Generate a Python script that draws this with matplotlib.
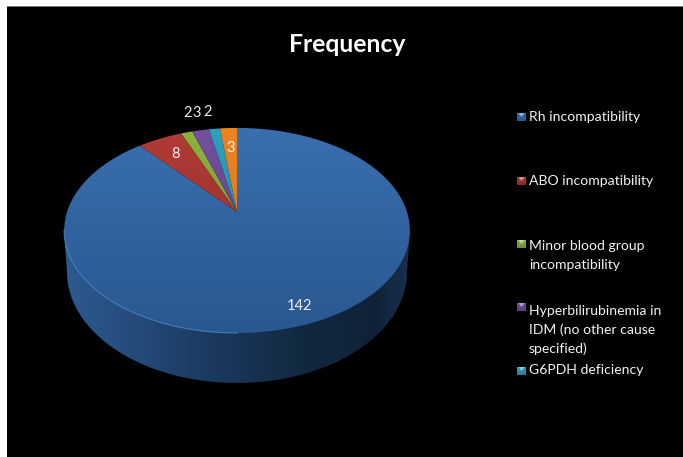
#!/usr/bin/env python3
"""Frequency of causes of neonatal jaundice, as a tilted 3D pie on black."""

import numpy as np
import matplotlib
matplotlib.use("Agg")
import matplotlib.pyplot as plt
from matplotlib.colors import LinearSegmentedColormap, to_rgb
from matplotlib.patches import Polygon, Rectangle

# slices go clockwise from 12 o'clock; the last one has no legend entry
values = [142, 8, 2, 3, 2, 3]
names = [
    "Rh incompatibility",
    "ABO incompatibility",
    "Minor blood group\nincompatibility",
    "Hyperbilirubinemia in\nIDM (no other cause\nspecified)",
    "G6PDH deficiency",
]
top_colors = ["#3a6fb0", "#b23b36", "#8fb23e", "#74509f", "#2f9fc0", "#ee8422"]
low_colors = ["#295790", "#8c2b29", "#6f8f2e", "#583c80", "#23809c", "#d06f18"]

label_pos = [(299, 306), (175, 154), (188, 113), (197, 113), (208, 112), (231, 148)]
legend_y = [117, 181, 244, 307, 371]
text_y = [117, 181, 255.5, 330, 370]

CX = 237
APEX_Y = 212.0
K = 0.18  # perspective strength of the tilted disc


def project(theta, a, b, c):
    # clockwise angle from the top -> pixel position on a tilted disc
    x, y = np.sin(theta), np.cos(theta)
    w = 1 + K * y
    return CX + a * x / w, c - b * y / w


def top_rim(theta):
    return project(theta, 170.0, 99.2, APEX_Y)


def bottom_rim(theta):
    return project(theta, 167.2, 107.4, 252.0)


def gradient(ax, extent, colors, clip, horizontal=False, stops=None):
    cmap = LinearSegmentedColormap.from_list(
        "g", list(zip(stops, colors)) if stops else colors
    )
    g = np.linspace(0, 1, 256)
    img = g[np.newaxis, :] if horizontal else g[:, np.newaxis]
    im = ax.imshow(img, extent=extent, cmap=cmap, aspect="auto", zorder=5)
    im.set_clip_path(clip)
    return im


fig = plt.figure(figsize=(6.83, 4.57), dpi=100, facecolor="white")
ax = fig.add_axes([0, 0, 1, 1])
ax.set_xlim(0, 683)
ax.set_ylim(457, 0)
ax.axis("off")

plt.rcParams["font.family"] = ["Lato", "DejaVu Sans"]

# panel
ax.add_patch(Rectangle((7, 7), 676, 450, fc="black", ec="none", zorder=1))
ax.add_patch(Rectangle((7, 6), 676, 1, fc="#777777", ec="none", zorder=1))

# side wall: silhouette from the widest points down round the lower rim
widest = np.arccos(-K)
t = np.linspace(widest, 2 * np.pi - widest, 200)
bx, by = bottom_rim(t)
wall = Polygon(
    np.column_stack([np.r_[410, bx, 64], np.r_[230, by, 230]]),
    closed=True, fc="none", ec="none", transform=ax.transData,
)
ax.add_patch(wall)
gradient(
    ax, (64, 410, 400, 200),
    ["#2c5b91", "#274f80", "#1a3a60", "#12283f", "#102239", "#17304f"],
    wall, horizontal=True, stops=[0, 0.15, 0.42, 0.7, 0.9, 1],
)

# top face, one wedge per value
edges = np.r_[0, np.cumsum(values)] / sum(values) * 2 * np.pi
for i in range(len(values)):
    t = np.linspace(edges[i], edges[i + 1], 240)
    rx, ry = top_rim(t)
    wedge = Polygon(
        np.column_stack([np.r_[CX, rx], np.r_[APEX_Y, ry]]),
        closed=True, fc="none", ec="none", transform=ax.transData,
    )
    ax.add_patch(wedge)
    gradient(ax, (60, 415, 335, 125), [top_colors[i], low_colors[i]], wedge)

# light bevel along the front left of the disc
t = np.linspace(np.pi, 2 * np.pi - widest, 120)
rx, ry = top_rim(t)
ax.plot(rx, ry, color="#4a82c4", lw=0.9, alpha=0.8, zorder=50)

# value labels
for v, (x, y) in zip(values, label_pos):
    ax.text(x, y, str(v), color="white", fontsize=10.5, ha="center", va="center",
            zorder=60, alpha=0.92)

ax.text(347, 44, "Frequency", color="white", fontsize=17.8, fontweight="bold",
        ha="center", va="center", zorder=60)

# legend, swatch colours follow the slices
for name, sy, ty, c0, c1 in zip(names, legend_y, text_y, top_colors, low_colors):
    box = Rectangle((517, sy - 4.5), 9, 9, fc="none", ec="none", transform=ax.transData)
    ax.add_patch(box)
    gradient(ax, (517, 526, sy + 4.5, sy - 4.5), [c0, c1], box)
    # small glossy notch at the top of each swatch
    light = tuple(0.55 * np.array(to_rgb(c0)) + 0.45)
    ax.add_patch(Polygon([(518.5, sy - 4), (524.5, sy - 4), (521.5, sy)],
                         closed=True, fc=light, ec="none", zorder=6))
    ax.text(529, ty, name, color="#f2f2f2", fontsize=10.1, ha="left", va="center",
            linespacing=1.65, zorder=60)

fig.savefig("out.png", dpi=100, facecolor="white")
